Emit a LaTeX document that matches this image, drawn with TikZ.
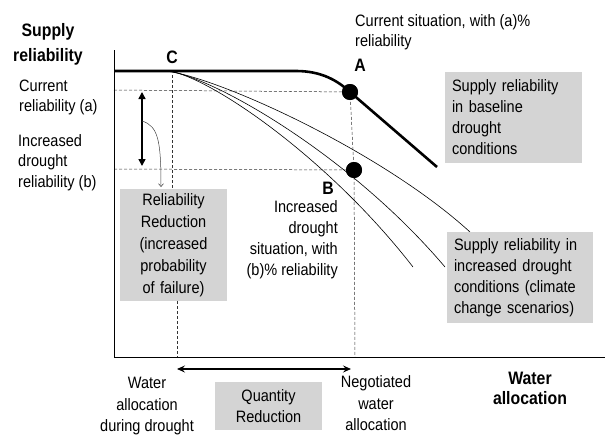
\documentclass[tikz,border=0pt]{standalone}
\usepackage{fontspec}
\setmainfont{Liberation Sans}[FakeStretch=0.88]
\usetikzlibrary{arrows.meta}
\definecolor{boxgray}{RGB}{212,212,212}
\tikzset{
  txt/.style={inner sep=0pt, font=\fontsize{16.5}{21}\selectfont},
  lbl/.style={inner sep=0pt, font=\fontsize{18}{25}\selectfont\bfseries},
  graybox/.style={fill=boxgray, inner sep=0pt, font=\fontsize{16.5}{21}\selectfont},
  dot/.style={circle, fill=black, minimum size=16pt, inner sep=0pt},
  guide/.style={dash pattern=on 3pt off 2pt, line width=0.5pt, black!80},
  thin curve/.style={line width=0.6pt},
  thick curve/.style={line width=2.6pt},
  axis/.style={line width=1pt},
}
\begin{document}
\begin{tikzpicture}[x=1pt,y=-1pt]
\useasboundingbox (0,0) rectangle (605,434);
% axes
\coordinate (Ytop) at (114,50);
\coordinate (O) at (114,357);
\coordinate (Xend) at (605,357);
% points
\node[dot] (A) at (350,92) {};
\node[dot] (B) at (354,170) {};
\coordinate (Astart) at (114,71);
\coordinate (Aflat) at (296,71);
\coordinate (Aend) at (437,167);
\coordinate (Ya) at (114,90);
\coordinate (Yb) at (114,169);
\coordinate (Xb) at (355,357);
\coordinate (Ctop) at (172,75);
\coordinate (Cbot) at (177,357);
% gray boxes
\node[graybox, minimum width=107pt, minimum height=112pt, text width=107pt, align=center, font=\fontsize{16.5}{22}\selectfont] (rr) at (173.5,245) {Reliability\\Reduction\\(increased\\probability\\of failure)};
% guides
\draw[guide] (Ya) -- (A.center);
\draw[guide] (Yb) -- (B.center);
\draw[guide] (A.center) -- (B.center) -- (Xb);
\draw[guide] (Ctop) -- (rr.north -| Ctop);
\draw[guide] (rr.south -| Cbot) -- (Cbot);
% thin curves
\coordinate (c1s) at (165,71);
\coordinate (c1e) at (470,232);
\coordinate (c2s) at (168,71);
\coordinate (c2e) at (445,267);
\coordinate (c3s) at (170,71);
\coordinate (c3e) at (413,267);
\draw[thin curve] (c1s) .. controls (215,76) and (380,150) .. (c1e);
\draw[thin curve] (c2s) .. controls (215,78) and (350,155) .. (c2e);
\draw[thin curve] (c3s) .. controls (215,80) and (330,160) .. (c3e);
% thick curve
\draw[thick curve] (Astart) -- (Aflat) .. controls (322,71) and (338,81) .. (A.center) -- (Aend);
\node[dot] at (A) {};
\node[dot] at (B) {};
% axes
\draw[axis] (Ytop) -- (O) -- (Xend);
% vertical arrow
\coordinate (va1) at (142,92);
\coordinate (va2) at (142,166);
\draw[line width=1.6pt, {Triangle[length=7pt,width=7pt]}-{Triangle[length=7pt,width=7pt]}] (va1) -- (va2);
\coordinate (vm) at (142,121);
\coordinate (rrt) at (161,187);
\draw[line width=0.5pt, black!75, -{Straight Barb[length=3pt,width=5pt]}] (vm) .. controls (158,126) and (161,140) .. (rrt);
% horizontal arrow
\coordinate (h1) at (177,369);
\coordinate (h2) at (351,369);
\draw[line width=1.3pt, {Stealth[length=8pt,width=7pt,inset=3pt]}-{Stealth[length=8pt,width=7pt,inset=3pt]}] (h1) -- (h2);
% boxes
\node[graybox, minimum width=137pt, minimum height=91pt, text width=123pt, align=left, inner xsep=7pt] (base) at (513.5,117.5) {Supply reliability\\in baseline\\drought\\conditions};
\node[graybox, minimum width=146pt, minimum height=91pt, text width=132pt, align=left, inner xsep=7pt] (clim) at (520,277.5) {Supply reliability in\\increased drought\\conditions (climate\\change scenarios)};
\node[graybox, minimum width=107pt, minimum height=48pt, align=center] (qr) at (268.5,406) {Quantity\\Reduction};
% labels
\node[lbl, align=center] (ylab) at (48,44) {Supply\\reliability};
\node[lbl] (lC) at (172,57) {C};
\node[lbl] (lA) at (360,65) {A};
\node[lbl] (lB) at (328,188) {B};
\node[txt, align=left, anchor=west, font=\fontsize{16.5}{20}\selectfont] (cur) at (355,32) {Current situation, with (a)\%\\reliability};
\node[txt, align=left, anchor=west, font=\fontsize{16.5}{20}\selectfont] (ra) at (19,97) {Current\\reliability (a)};
\node[txt, align=left, anchor=west, font=\fontsize{16.5}{20.5}\selectfont] (rb) at (18,162.5) {Increased\\drought\\reliability (b)};
\node[txt, align=right, anchor=east] (inc) at (338,239.5) {Increased\\drought\\situation, with\\(b)\% reliability};
\node[txt, align=center, font=\fontsize{16.5}{21.5}\selectfont] (wd) at (147,406.5) {Water\\allocation\\during drought};
\node[txt, align=center, font=\fontsize{16.5}{21.5}\selectfont] (nw) at (376,403.5) {Negotiated\\water\\allocation};
\node[lbl, align=center, font=\fontsize{18}{20}\selectfont\bfseries] (xlab) at (530,388) {Water\\allocation};
\end{tikzpicture}
\end{document}
